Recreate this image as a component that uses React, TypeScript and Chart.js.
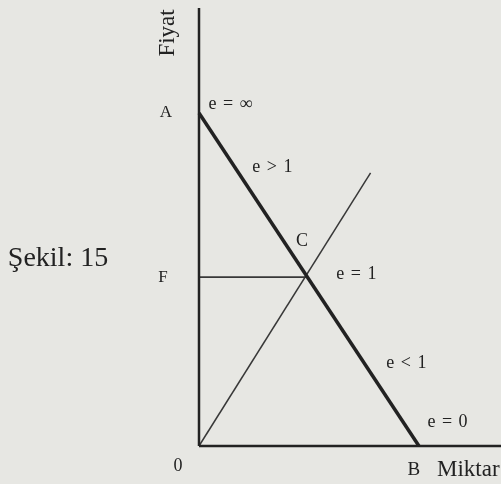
import React, { useEffect, useRef } from "react";
import { Chart, registerables } from "chart.js";

Chart.register(...registerables);

// Demand line A -> B (quantity, price)
const demandQ = [0, 10];
const demandP = [10, 0];
// Ray from origin through C
const rayQ = [0, 7.8];
const rayP = [0, 8.2];
// Horizontal F line to C
const fQ = [0, 4.9];
const fP = [5.07, 5.07];
// Axis extents
const axisMaxQ = 13.73;
const axisMaxP = 13.15;

// Text labels in data coordinates
const labelTexts = ["Fiyat", "A", "e = ∞", "e > 1", "C", "e = 1", "F", "Şekil: 15", "e < 1", "e = 0", "0", "B", "Miktar"];
const labelQ = [-1.41, -1.5, 1.45, 3.36, 4.68, 7.18, -1.64, -6.41, 9.45, 11.32, -0.95, 9.77, 10.82];
const labelP = [12.4, 10.0, 10.27, 8.38, 6.16, 5.17, 5.05, 5.62, 2.49, 0.72, -0.6, -0.72, -0.72];
const labelSizes = [23, 17, 18, 18, 18, 18, 17, 28, 18, 18, 18, 19, 23];

const BG = "#e7e7e3";
const INK = "#222222";

const toPts = (xs: number[], ys: number[]) => xs.map((x, i) => ({ x, y: ys[i] }));

export default function App() {
  const ref = useRef<HTMLCanvasElement | null>(null);
  useEffect(() => {
    document.body.style.margin = "0";
    document.body.style.background = BG;
    const canvas = ref.current!;
    const labelPlugin = {
      id: "labels",
      beforeDraw(chart: any) {
        const ctx = chart.ctx;
        ctx.save();
        ctx.fillStyle = BG;
        ctx.fillRect(0, 0, chart.width, chart.height);
        ctx.restore();
      },
      afterDatasetsDraw(chart: any) {
        const ctx = chart.ctx;
        const xs = chart.scales.x;
        const ys = chart.scales.y;
        ctx.save();
        ctx.fillStyle = INK;
        ctx.textBaseline = "middle";
        labelTexts.forEach((t, i) => {
          const px = xs.getPixelForValue(labelQ[i]);
          const py = ys.getPixelForValue(labelP[i]);
          const size = labelSizes[i];
          const isE = t.startsWith("e ");
          ctx.font = `${size}px "Liberation Serif", "DejaVu Serif", serif`;
          (ctx as any).letterSpacing = isE ? "1px" : "0px";
          ctx.textAlign = t === "Miktar" ? "left" : "center";
          if (t === "Fiyat") {
            ctx.save();
            ctx.translate(px, py);
            ctx.rotate(-Math.PI / 2);
            ctx.fillText(t, 0, 0);
            ctx.restore();
          } else {
            ctx.fillText(t, px, py);
          }
        });
        ctx.restore();
      },
    };
    const chart = new Chart(canvas, {
      type: "scatter",
      data: {
        datasets: [
          { data: toPts([0, 0], [0, axisMaxP]), showLine: true, borderColor: INK, borderWidth: 2.5, pointRadius: 0, clip: false } as any,
          { data: toPts([0, axisMaxQ], [0, 0]), showLine: true, borderColor: INK, borderWidth: 2.5, pointRadius: 0, clip: false } as any,
          { data: toPts(demandQ, demandP), showLine: true, borderColor: INK, borderWidth: 3.5, pointRadius: 0, clip: false } as any,
          { data: toPts(rayQ, rayP), showLine: true, borderColor: "#383838", borderWidth: 1.5, pointRadius: 0, clip: false } as any,
          { data: toPts(fQ, fP), showLine: true, borderColor: "#383838", borderWidth: 1.6, pointRadius: 0, clip: false } as any,
        ],
      },
      options: {
        animation: false,
        responsive: false,
        layout: { padding: { left: 199, top: 8, right: 0, bottom: 38 } },
        plugins: { legend: { display: false }, tooltip: { enabled: false } },
        scales: {
          x: { type: "linear", display: false, min: 0, max: axisMaxQ },
          y: { type: "linear", display: false, min: 0, max: axisMaxP },
        },
      },
      plugins: [labelPlugin],
    });
    return () => chart.destroy();
  }, []);
  return (
    <div style={{ position: "fixed", left: 0, top: 0, width: 501, height: 484 }}>
      <canvas ref={ref} width={501} height={484} />
    </div>
  );
}
